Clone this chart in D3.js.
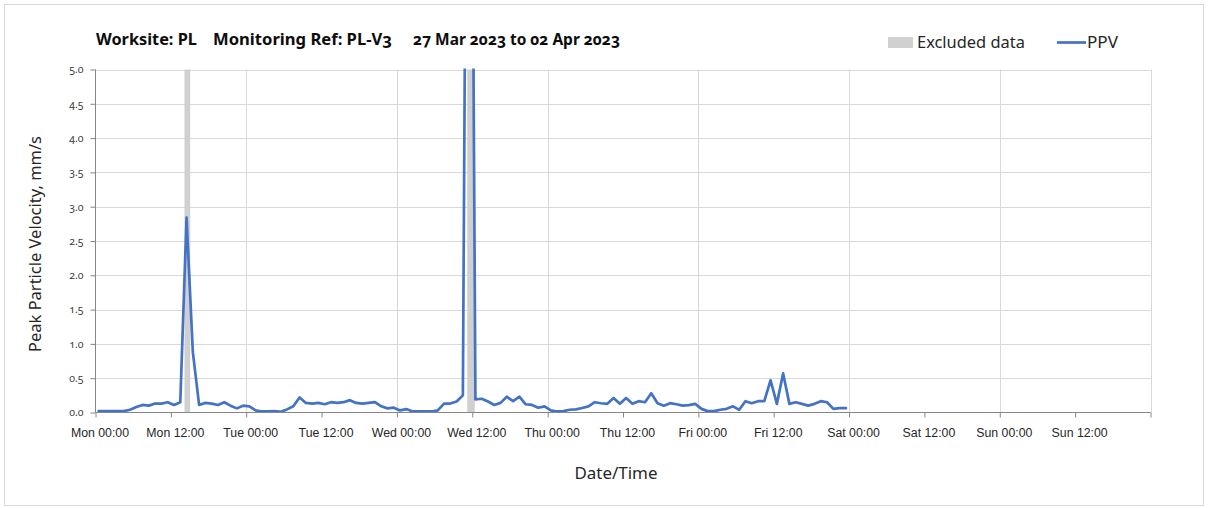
<!DOCTYPE html>
<html>
<head>
<meta charset="utf-8">
<script src="https://cdn.jsdelivr.net/npm/d3@7/dist/d3.min.js"></script>
<style>
  html, body { margin: 0; padding: 0; background: #fff; }
  svg { display: block; font-family: "Noto Sans", "Open Sans", sans-serif; font-variant-numeric: oldstyle-nums; }
</style>
</head>
<body>
<svg id="chart" width="1208" height="508"></svg>
<script>
// ---------------- DATA ----------------
const startTime = "2023-03-27T00:30:00";   // first hourly reading
const endDomain = ["2023-03-27T00:00:00", "2023-04-03T00:00:00"];
// hourly PPV values, mm/s (Mon 00:30 ... Fri 23:30)
const ppv = [
  0.02, 0.02, 0.02, 0.02, 0.02, 0.04, 0.08, 0.11, 0.10, 0.13, 0.13, 0.15, 0.11, 0.15,
  2.84, 0.88,
  0.11, 0.14, 0.13, 0.11, 0.15, 0.10, 0.06, 0.10,
  0.09, 0.03, 0.015, 0.015, 0.02, 0.01, 0.045, 0.09,
  0.22, 0.14, 0.13, 0.14, 0.12, 0.15, 0.14, 0.15,
  0.18, 0.14, 0.13, 0.14, 0.15, 0.09, 0.06, 0.07,
  0.03, 0.05, 0.015, 0.015, 0.015, 0.015, 0.03, 0.13,
  0.13, 0.16, 0.25, 16.0, 0.19, 0.20, 0.16, 0.11,
  0.14, 0.23, 0.165, 0.23, 0.12, 0.11, 0.07, 0.09,
  0.03, 0.015, 0.02, 0.04, 0.045, 0.065, 0.09, 0.15,
  0.135, 0.126, 0.21, 0.126, 0.21, 0.126, 0.165, 0.15,
  0.28, 0.136, 0.10, 0.136, 0.12, 0.10, 0.107, 0.126,
  0.053, 0.02, 0.02, 0.04, 0.053, 0.09, 0.04, 0.165,
  0.136, 0.165, 0.165, 0.47, 0.126, 0.57, 0.126, 0.15,
  0.126, 0.10, 0.126, 0.165, 0.15, 0.053, 0.063, 0.063
];
// excluded-data periods
const excludedStart = ["2023-03-27T14:10:00", "2023-03-29T11:12:00"];
const excludedEnd   = ["2023-03-27T15:05:00", "2023-03-29T12:24:00"];
const yTicks = [0, 0.5, 1, 1.5, 2, 2.5, 3, 3.5, 4, 4.5, 5];
const titleParts = ["Worksite: PL", "Monitoring Ref: PL-V3", "27 Mar 2023 to 02 Apr 2023"];
const legendLabels = ["Excluded data", "PPV"];
const yTitle = "Peak Particle Velocity, mm/s";
const xTitle = "Date/Time";

// ---------------- LAYOUT ----------------
const svg = d3.select("#chart");
const L = 95.5, R = 1150.5, T = 69.5, B = 412.5;
const parse = d3.isoParse;
const t0 = parse(startTime);
const times = ppv.map((_, i) => d3.timeHour.offset(t0, i));
const data = ppv.map((v, i) => ({ t: times[i], v }));

const x = d3.scaleTime().domain(endDomain.map(parse)).range([L, R]);
const y = d3.scaleLinear().domain([0, 5]).range([B, T]);

function fit(sel, target) {
  const node = sel.node();
  let fs = parseFloat(sel.attr("font-size"));
  const w = node.getComputedTextLength();
  if (w > 0) sel.attr("font-size", (fs * target / w).toFixed(2));
  return sel;
}

// outer frame
svg.append("rect").attr("x", 4.5).attr("y", 4.5).attr("width", 1199).attr("height", 501)
  .attr("fill", "#fff").attr("stroke", "#d9d9d9");

// horizontal gridlines
svg.append("g").selectAll("line").data(yTicks.slice(1)).join("line")
  .attr("x1", L).attr("x2", R).attr("y1", d => Math.round(y(d)) + 0.5).attr("y2", d => Math.round(y(d)) + 0.5)
  .attr("stroke", "#d9d9d9").attr("stroke-width", 1);

// vertical gridlines (daily)
const dayTicks = d3.timeDay.range(parse(endDomain[0]), d3.timeHour.offset(parse(endDomain[1]), 1)).slice(1);
svg.append("g").selectAll("line").data(dayTicks).join("line")
  .attr("x1", d => Math.round(x(d)) + 0.5).attr("x2", d => Math.round(x(d)) + 0.5)
  .attr("y1", T).attr("y2", B)
  .attr("stroke", "#d9d9d9").attr("stroke-width", 1);

// excluded bands
svg.append("g").selectAll("rect").data(excludedStart.map((s, i) => [parse(s), parse(excludedEnd[i])])).join("rect")
  .attr("x", d => x(d[0])).attr("width", d => x(d[1]) - x(d[0]))
  .attr("y", T).attr("height", B - T)
  .attr("fill", "#d0d0d0");

// clip
svg.append("clipPath").attr("id", "plotclip").append("rect")
  .attr("x", L).attr("y", T - 1).attr("width", R - L).attr("height", B - T + 1);

// PPV line
const line = d3.line().x(d => x(d.t)).y(d => y(d.v));
svg.append("path").datum(data)
  .attr("clip-path", "url(#plotclip)")
  .attr("d", line).attr("fill", "none")
  .attr("stroke", "#4472C4").attr("stroke-width", 2.7)
  .attr("stroke-linejoin", "round").attr("stroke-linecap", "round");

// Y axis
const yAxis = d3.axisLeft(y).tickValues(yTicks).tickFormat(d3.format(".1f")).tickSize(5).tickPadding(7);
const gy = svg.append("g").attr("transform", `translate(${L},0)`).call(yAxis);
gy.select(".domain").attr("stroke", "#868686").attr("d", `M-0,${T}V${B}`);
gy.selectAll(".tick line").attr("stroke", "#868686");
gy.selectAll(".tick text").attr("font-size", 10.5).attr("fill", "#404040")
  .attr("font-family", "'Noto Sans', sans-serif");

// X axis
const xTickVals = d3.timeHour.every(12).range(parse(endDomain[0]), d3.timeHour.offset(parse(endDomain[1]), 1));
const fmt = d3.timeFormat("%a %H:%M");
const xAxis = d3.axisBottom(x).tickValues(xTickVals)
  .tickFormat((d, i) => i < xTickVals.length - 1 ? fmt(d) : "")
  .tickSize(5).tickPadding(11);
const gx = svg.append("g").attr("transform", `translate(0,${B})`).call(xAxis);
gx.select(".domain").attr("stroke", "#868686").attr("d", `M${L},0H${R}`);
gx.selectAll(".tick line").attr("stroke", "#868686");
gx.selectAll(".tick text").attr("font-size", 12.3).attr("fill", "#262626").attr("dx", 4);

// Titles
const tx = [96, 213, 413], tw = [101, 179, 207];
titleParts.forEach((s, i) => {
  const t = svg.append("text").attr("x", tx[i]).attr("y", 45)
    .attr("font-size", 15).attr("font-weight", "bold").attr("fill", "#0d0d0d").text(s);
  fit(t, tw[i]);
});

// Legend
svg.append("rect").attr("x", 888).attr("y", 37).attr("width", 25).attr("height", 11).attr("fill", "#d0d0d0");
fit(svg.append("text").attr("x", 917).attr("y", 48).attr("font-size", 15).attr("fill", "#262626").text(legendLabels[0]), 108);
svg.append("line").attr("x1", 1057).attr("x2", 1086).attr("y1", 42.5).attr("y2", 42.5)
  .attr("stroke", "#4472C4").attr("stroke-width", 2.7);
fit(svg.append("text").attr("x", 1087).attr("y", 48).attr("font-size", 15).attr("fill", "#262626").text(legendLabels[1]), 31);

// Axis titles
fit(svg.append("text").attr("transform", "translate(41,244) rotate(-90)").attr("text-anchor", "middle")
  .attr("font-size", 14).attr("fill", "#262626").text(yTitle), 216);
fit(svg.append("text").attr("x", 616).attr("y", 479).attr("text-anchor", "middle")
  .attr("font-size", 15).attr("fill", "#262626").text(xTitle), 83);
</script>
</body>
</html>
